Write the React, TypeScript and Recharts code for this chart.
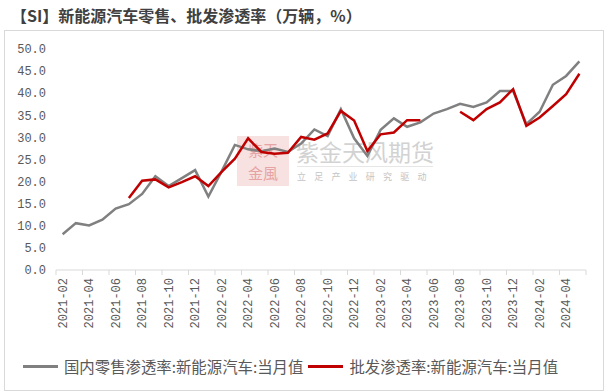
import { Legend, Line, LineChart, XAxis, YAxis } from 'recharts';

const months = [
  '2021-02', '2021-03', '2021-04', '2021-05', '2021-06', '2021-07', '2021-08', '2021-09',
  '2021-10', '2021-11', '2021-12', '2022-01', '2022-02', '2022-03', '2022-04', '2022-05',
  '2022-06', '2022-07', '2022-08', '2022-09', '2022-10', '2022-11', '2022-12', '2023-01',
  '2023-02', '2023-03', '2023-04', '2023-05', '2023-06', '2023-07', '2023-08', '2023-09',
  '2023-10', '2023-11', '2023-12', '2024-01', '2024-02', '2024-03', '2024-04', '2024-05',
];

// 国内零售渗透率
const retail = [
  8.1, 10.6, 10.1, 11.4, 13.9, 14.9, 17.2, 21.2, 19.0, 20.8,
  22.6, 16.6, 22.3, 28.3, 27.3, 26.9, 27.5, 26.7, 28.6, 31.8,
  30.3, 36.4, 29.8, 25.8, 31.7, 34.3, 32.4, 33.4, 35.4, 36.4,
  37.6, 36.9, 37.9, 40.5, 40.5, 33.0, 35.8, 41.9, 43.9, 47.2,
];

// 批发渗透率
const wholesale = [
  null, null, null, null, null, 16.3, 20.2, 20.5, 18.7, 19.9,
  21.2, 19.0, 22.2, 25.2, 29.8, 26.7, 26.3, 26.5, 30.1, 29.5,
  30.9, 36.0, 33.8, 26.9, 30.7, 31.1, 33.9, 33.9, null, null,
  35.8, 33.9, 36.4, 37.9, 40.9, 32.6, 34.5, 37.1, 39.8, 44.4,
];

const yTicks = [0, 5, 10, 15, 20, 25, 30, 35, 40, 45, 50];

const retailName = '国内零售渗透率:新能源汽车:当月值';
const wholesaleName = '批发渗透率:新能源汽车:当月值';

const data = months.map((m, i) => ({ m, retail: retail[i], wholesale: wholesale[i] }));

const PLOT_W = 530;
const band = PLOT_W / months.length;
const axisColor = '#d9d9d9';
const textColor = '#595959';
const monoFont = '"Liberation Mono", "DejaVu Sans Mono", monospace';
const cjkFont = '"Noto Sans CJK SC", "Noto Sans", sans-serif';

function MonthTick(props: any) {
  const { x, y, payload } = props;
  const isLastLabel = payload.value === months[months.length - 2];
  return (
    <g>
      <line x1={x - band / 2} x2={x - band / 2} y1={y - 8} y2={y - 3} stroke={axisColor} />
      {isLastLabel && (
        <line x1={x + band * 1.5} x2={x + band * 1.5} y1={y - 8} y2={y - 3} stroke={axisColor} />
      )}
      <text
        x={x}
        y={y}
        dy="0.35em"
        transform={`rotate(-90, ${x}, ${y})`}
        textAnchor="end"
        fill={textColor}
        fontSize={12}
        fontFamily={monoFont}
      >
        {payload.value}
      </text>
    </g>
  );
}

function LegendContent(props: any) {
  const items = props.payload || [];
  return (
    <div
      style={{
        display: 'flex',
        justifyContent: 'center',
        alignItems: 'center',
        height: 20,
        lineHeight: '20px',
        fontFamily: cjkFont,
        fontSize: 15.4,
        color: textColor,
      }}
    >
      {items.map((item: any) => (
        <span key={item.value} style={{ display: 'flex', alignItems: 'center', marginRight: 5 }}>
          <span style={{ width: 35, height: 3, background: item.color, marginRight: 6 }} />
          {item.value}
        </span>
      ))}
    </div>
  );
}

function Watermark() {
  return (
    <div style={{ position: 'absolute', left: 0, top: 0, width: 606, height: 391, pointerEvents: 'none' }}>
      <div
        style={{
          position: 'absolute',
          left: 237,
          top: 136,
          width: 52,
          height: 50,
          background: '#f7e1e1',
          color: '#e6a3a3',
          fontFamily: '"Noto Sans CJK TC", serif',
          fontSize: 15,
          lineHeight: '23px',
          paddingTop: 2,
          boxSizing: 'border-box',
          textAlign: 'center',
        }}
      >
        <div>紫天</div>
        <div>金風</div>
      </div>
      <div
        style={{
          position: 'absolute',
          left: 296,
          top: 134,
          fontFamily: cjkFont,
          fontSize: 23,
          color: '#d2d2d2',
          whiteSpace: 'nowrap',
        }}
      >
        紫金天风期货
      </div>
      <div style={{ position: 'absolute', left: 297, top: 166, width: 136, height: 1, background: '#e6e6e6' }} />
      <div
        style={{
          position: 'absolute',
          left: 297,
          top: 170,
          fontFamily: cjkFont,
          fontSize: 9,
          letterSpacing: 8.2,
          color: '#c4c4c4',
          whiteSpace: 'nowrap',
        }}
      >
        立足产业研究驱动
      </div>
    </div>
  );
}

export default function App() {
  return (
    <div style={{ position: 'absolute', left: 0, top: 0, width: 606, height: 391, background: '#fff' }}>
      <div
        style={{
          position: 'absolute',
          left: 11,
          top: 3,
          fontFamily: cjkFont,
          fontWeight: 700,
          fontSize: 16,
          color: '#404040',
          whiteSpace: 'nowrap',
        }}
      >
        【SI】新能源汽车零售、批发渗透率（万辆，%）
      </div>
      <div
        style={{
          position: 'absolute',
          left: 4,
          top: 30,
          width: 598,
          height: 359,
          border: `1px solid ${axisColor}`,
        }}
      />
      <Watermark />
      <div style={{ position: 'absolute', left: 0, top: 0 }}>
        <LineChart width={606} height={391} data={data} margin={{ top: 49, right: 20, left: 0, bottom: 15 }}>
          <XAxis
            dataKey="m"
            scale="band"
            interval={1}
            height={86}
            tick={<MonthTick />}
            tickLine={false}
            axisLine={{ stroke: axisColor }}
          />
          <YAxis
            domain={[0, 50]}
            ticks={yTicks}
            width={56}
            axisLine={false}
            tickLine={false}
            tickMargin={4}
            tickFormatter={(v: number) => v.toFixed(1)}
            tick={{ fill: textColor, fontSize: 12, fontFamily: monoFont }}
          />
          <Legend verticalAlign="bottom" content={<LegendContent />} />
          <Line
            name={retailName}
            dataKey="retail"
            stroke="#808080"
            strokeWidth={2.5}
            dot={false}
            activeDot={false}
            isAnimationActive={false}
          />
          <Line
            name={wholesaleName}
            dataKey="wholesale"
            stroke="#c00000"
            strokeWidth={2.5}
            dot={false}
            activeDot={false}
            isAnimationActive={false}
          />
        </LineChart>
      </div>
    </div>
  );
}
